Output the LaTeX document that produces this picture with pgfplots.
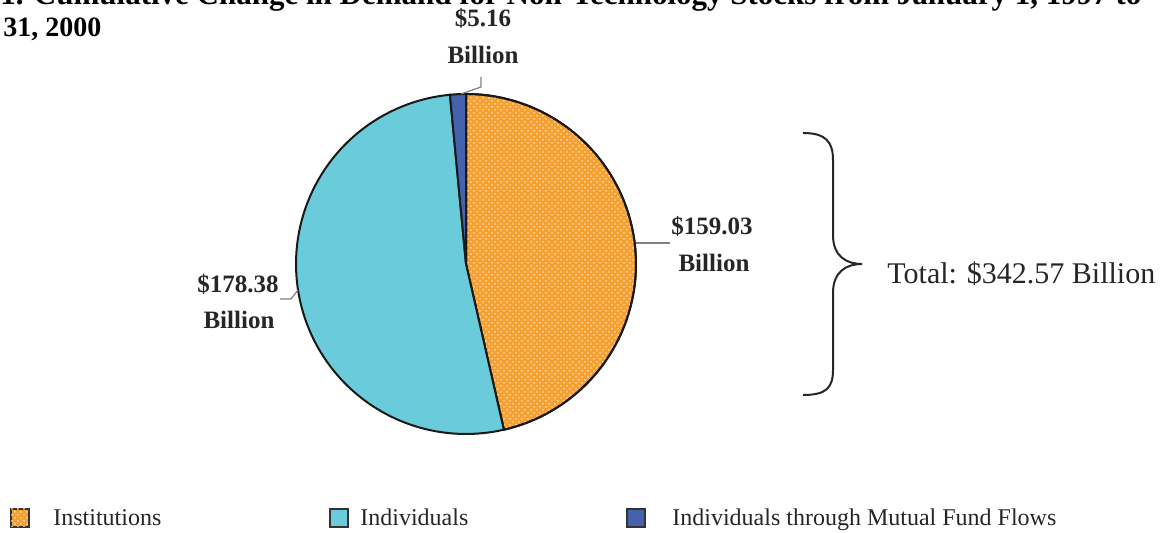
\documentclass[border=0pt]{standalone}
\usepackage{fontspec}
\setmainfont{Liberation Serif}
\usepackage{pgfplots}
\pgfplotsset{compat=1.18}
\usepackage{pgfplotstable}
\usetikzlibrary{patterns}
\definecolor{instor}{HTML}{F6A032}
\definecolor{instlt}{HTML}{FCD9A8}
\definecolor{indcy}{HTML}{6ACBDB}
\definecolor{mfblue}{HTML}{4563AD}
\definecolor{leader}{HTML}{808080}
\pgfplotstableread{
label value
Institutions 159.03
Individuals 178.38
Mutual 5.16
}\piedata
\begin{document}%
\begin{tikzpicture}
\pgfplotstablegetelem{0}{value}\of\piedata\let\va\pgfplotsretval
\pgfplotstablegetelem{1}{value}\of\piedata\let\vb\pgfplotsretval
\pgfplotstablegetelem{2}{value}\of\piedata\let\vc\pgfplotsretval
\pgfmathsetmacro\total{\va+\vb+\vc}
\pgfmathsetmacro\aA{360*(\va/\total)}
\pgfmathsetmacro\aB{360*((\va+\vb)/\total)}
\useasboundingbox (0,0) rectangle (581.5pt,266.5pt);
\clip (0,0) rectangle (581.5pt,266.5pt);
\begin{axis}[
  at={(0,0)}, anchor=south west,
  scale only axis, width=581.5pt, height=266.5pt,
  xmin=0, xmax=1163, ymin=0, ymax=533, y dir=reverse,
  hide axis, clip=false,
]
% slices
\addplot[draw=black!90, line width=1pt, fill=instor,
  postaction={pattern=crosshatch dots, pattern color=instlt},
  domain=0:\aA, samples=90, variable=\t]
  ({466+170*sin(\t)}, {264-170*cos(\t)}) -- (axis cs:466,264) -- cycle;
\addplot[draw=black!90, line width=1pt, fill=indcy,
  domain=\aA:\aB, samples=90, variable=\t]
  ({466+170*sin(\t)}, {264-170*cos(\t)}) -- (axis cs:466,264) -- cycle;
\addplot[draw=black!90, line width=1pt, fill=mfblue,
  domain=\aB:360, samples=10, variable=\t]
  ({466+170*sin(\t)}, {264-170*cos(\t)}) -- (axis cs:466,264) -- cycle;
% leader lines
\draw[leader, line width=0.6pt] (axis cs:636,243) -- (axis cs:670,243);
\draw[leader, line width=0.6pt] (axis cs:298,290) -- (axis cs:291,299) -- (axis cs:280,299);
\draw[leader, line width=0.6pt] (axis cs:461,94) -- (axis cs:481,87) -- (axis cs:481,77);
% data labels
\tikzset{lbl/.style={font=\bfseries\fontsize{12.5}{14}\selectfont, text=black!85, inner sep=0pt}}
\node[lbl] at (axis cs:483,18) {\$5.16};
\node[lbl] at (axis cs:483,55) {Billion};
\node[lbl] at (axis cs:712,226) {\$159.03};
\node[lbl] at (axis cs:714,263) {Billion};
\node[lbl] at (axis cs:238,284) {\$178.38};
\node[lbl] at (axis cs:239,320) {Billion};
% title
\node[anchor=base west, inner sep=0pt, font=\bfseries\fontsize{15.5}{18}\selectfont] at (axis cs:0,5)
  {1. Cumulative Change in Demand for Non-Technology Stocks from January 1, 1997 to};
\node[anchor=base west, inner sep=0pt, font=\bfseries\fontsize{14}{17}\selectfont] at (axis cs:3,37)
  {31, 2000};
% brace
\draw[line width=1pt, black!85] (axis cs:803,133) .. controls (axis cs:826,133) and (axis cs:833,142) .. (axis cs:833,160)
  -- (axis cs:833,235) .. controls (axis cs:833,256) and (axis cs:846,264) .. (axis cs:862,264)
  .. controls (axis cs:846,264) and (axis cs:833,272) .. (axis cs:833,293)
  -- (axis cs:833,370) .. controls (axis cs:833,388) and (axis cs:826,395) .. (axis cs:803,395);
\node[anchor=base west, inner sep=0pt, font=\fontsize{15}{17}\selectfont, text=black!85] at (axis cs:887,284)
  {Total: \$342.57 Billion};
% legend
\tikzset{leg/.style={anchor=base west, inner sep=0pt, font=\fontsize{12}{14}\selectfont, text=black!85}}
\draw[black!80, line width=0.8pt, fill=instor, postaction={pattern=crosshatch dots, pattern color=instlt}]
  (axis cs:11,509) rectangle (axis cs:29,527);
\node[leg] at (axis cs:53,526) {Institutions};
\draw[black!80, line width=0.8pt, fill=indcy] (axis cs:330,509) rectangle (axis cs:348,527);
\node[leg] at (axis cs:360,526) {Individuals};
\draw[black!80, line width=0.8pt, fill=mfblue] (axis cs:627,509) rectangle (axis cs:645,527);
\node[leg] at (axis cs:672,526) {Individuals through Mutual Fund Flows};
\end{axis}
\end{tikzpicture}%
\end{document}
